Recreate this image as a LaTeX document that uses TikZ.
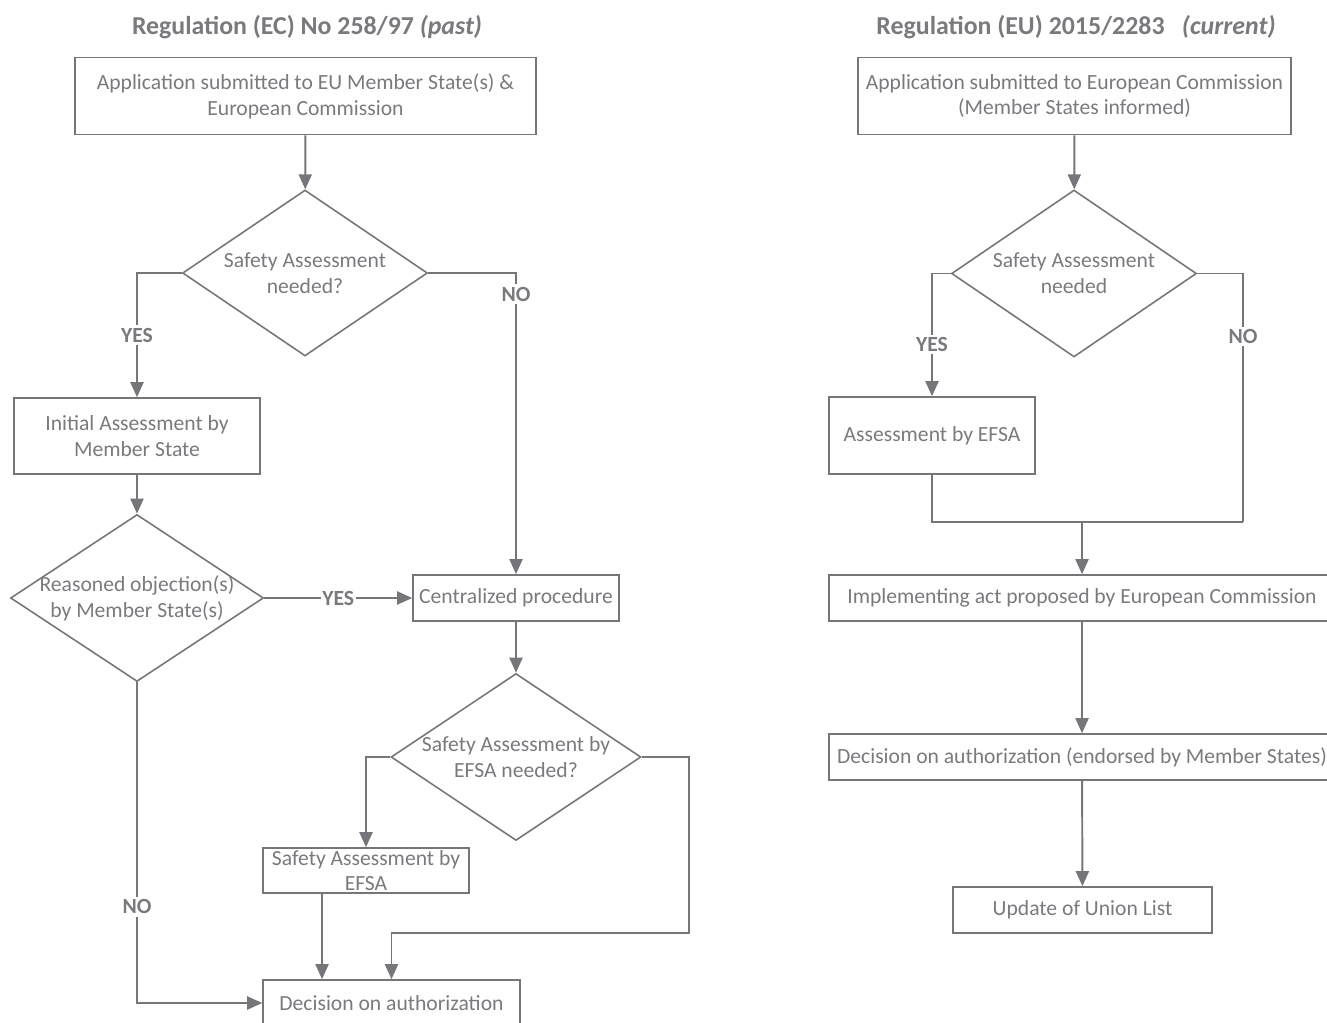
\documentclass[tikz,border=0pt]{standalone}
\usepackage{fontspec}
\setmainfont{Carlito}
\usetikzlibrary{shapes.geometric,positioning,arrows.meta}
\definecolor{flowline}{RGB}{118,118,122}
\definecolor{flowtext}{RGB}{122,122,126}
\newcommand{\flowfont}{\fontsize{12.3}{14.7}\selectfont}

\begin{document}
\begin{tikzpicture}
        [x=0.02cm, y=-0.02cm, line width=1pt, draw=flowline, text=flowtext,
         block/.style={draw=flowline, line width=0.9pt, align=center, inner sep=0pt, font=\flowfont},
         decision/.style={diamond, draw=flowline, line width=0.9pt, align=center, inner sep=-2pt,
                          shape aspect=1.5, minimum width=4.9cm, minimum height=3.32cm, font=\flowfont},
         title/.style={font=\fontsize{14.7}{17}\selectfont\bfseries},
         lbl/.style={fill=white, inner sep=1.5pt, font=\flowfont\bfseries},
         arr/.style={draw=flowline, line width=1.1pt, -{Triangle[length=0.3cm, width=0.26cm]}},
         wire/.style={draw=flowline, line width=1.1pt}]

        \useasboundingbox (0,0) rectangle (1327,1023);

        % past
        \node [title] (x) at (307,27) {Regulation (EC) No 258/97 \textit{(past)}};
        \node [block, minimum width=9.22cm, minimum height=1.54cm] (a) at (305.5,96)
              {Application submitted to EU Member State(s) \&\\European Commission};
        \node [decision] (b) at (305,273) {Safety Assessment\\needed?};
        \node [block, minimum width=4.92cm, minimum height=1.52cm] (c) at (137,436)
              {Initial Assessment by\\Member State};
        \node [decision, minimum width=5.06cm, minimum height=3.34cm] (d) at (137,598)
              {Reasoned objection(s)\\by Member State(s)};
        \node [block, minimum width=4.12cm, minimum height=0.92cm] (e) at (516,598)
              {Centralized procedure};
        \node [decision, minimum width=5cm, minimum height=3.34cm] (f) at (516,757)
              {Safety Assessment by\\EFSA needed?};
        \node [block, minimum width=4.12cm, minimum height=0.9cm] (g) at (366,870.5)
              {Safety Assessment by\\EFSA};
        \node [block, minimum width=5.14cm, minimum height=0.92cm] (h) at (391.5,1003)
              {Decision on authorization};
        \coordinate (j) at (689,933);

        \draw[arr] (a) -- (b);
        \draw[arr] (b.west) -| node[lbl, pos=0.75] {YES} (c.north);
        \draw[arr] (b.east) -| node[lbl, pos=0.535] {NO} (e.north);
        \draw[arr] (c) -- (d);
        \draw[arr] (d.east) -- node[lbl, inner sep=1pt] {YES} (e.west);
        \draw[arr] (e) -- (f);
        \draw[arr] (f.west) -| (g.north);
        \draw[arr] (f.east) -| (j) -| (h.north);
        \draw[arr] ([xshift=-0.88cm]g.south) coordinate (k) -- (k |- h.north);
        \draw[arr] (d.south) |- node[lbl, pos=0.35] {NO} (h.west);

        % current
        \node [title] (y) at (1076,27) {Regulation (EU) 2015/2283\hspace{0.45em} \textit{(current)}};
        \node [block, minimum width=8.66cm, minimum height=1.54cm] (p) at (1074.5,96)
              {Application submitted to European Commission\\(Member States informed)};
        \node [decision, minimum height=3.34cm] (q) at (1074,273.5) {Safety Assessment\\needed};
        \node [block, minimum width=4.12cm, minimum height=1.54cm] (r) at (932,435.5)
              {Assessment by EFSA};
        \node [block, minimum width=10.12cm, minimum height=0.92cm] (s) at (1082,598)
              {Implementing act proposed by European Commission};
        \node [block, minimum width=10.12cm, minimum height=0.92cm] (t) at (1082,757)
              {Decision on authorization (endorsed by Member States)};
        \node [block, minimum width=5.18cm, minimum height=0.92cm] (u) at (1082.5,910)
              {Update of Union List};
        \coordinate (v) at (1243,522);

        \draw[arr] (p) -- (q);
        \draw[arr] (q.west) -| node[lbl, pos=0.79] {YES} (r.north);
        \draw[wire] (q.east) -| node[lbl, pos=0.627] {NO} (v);
        \draw[wire] (r.south) |- (v);
        \draw[arr] (s.north |- v) -- (s.north);
        \draw[arr] (s) -- (t);
        \draw[arr] (t) -- (u);
\end{tikzpicture}
\end{document}
